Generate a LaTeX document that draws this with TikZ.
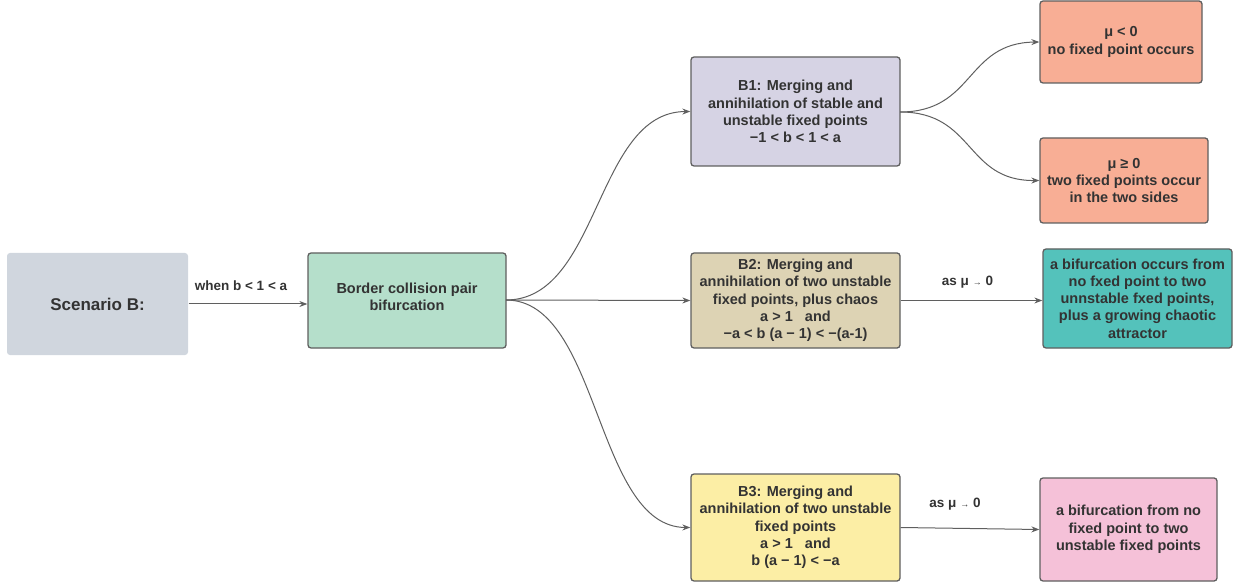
\documentclass[tikz,border=0pt]{standalone}
\usepackage{fontspec}
\setmainfont{Liberation Sans}
\usetikzlibrary{arrows.meta}
\definecolor{txt}{HTML}{333333}
\definecolor{edge}{HTML}{5F5F5F}
\definecolor{cscen}{HTML}{D0D6DE}
\definecolor{cborder}{HTML}{B5DFCB}
\definecolor{cbone}{HTML}{D6D3E4}
\definecolor{cbtwo}{HTML}{DDD3B4}
\definecolor{cbthree}{HTML}{FCEEA5}
\definecolor{csalmon}{HTML}{F8AE95}
\definecolor{cteal}{HTML}{54C2BB}
\definecolor{cpink}{HTML}{F5C1D8}
\tikzset{
  box/.style={draw=edge, line width=1.3pt, rounded corners=3pt, align=center,
    text=txt, font=\fontsize{14.5}{17.3}\selectfont\bfseries, inner sep=0pt},
  conn/.style={draw=edge, line width=1pt, -{Stealth[length=8pt,width=6pt]}},
  lbl/.style={text=txt, font=\fontsize{13.5}{16}\selectfont\bfseries, inner sep=0pt}
}
\newcommand{\smallarrow}{{\fontsize{9}{9}\selectfont →}}
\begin{document}
\begin{tikzpicture}[x=1pt,y=-1pt]
\useasboundingbox (0,0) rectangle (1253,585);
% left column
\node[box, draw=none, fill=cscen, minimum width=181pt, minimum height=102pt,
  font=\fontsize{17}{20}\selectfont\bfseries] (scen) at (97.5,304) {Scenario B:};
\node[box, fill=cborder, minimum width=198pt, minimum height=95pt] (bcp) at (407,300.5)
  {Border collision pair\\bifurcation\\[-10pt]\mbox{}};
% middle column
\node[box, fill=cbone, minimum width=209pt, minimum height=109pt] (b1) at (795.5,111.5)
  {B1: Merging and\\annihilation of stable and\\unstable fixed points\\−1 < b < 1 < a};
\node[box, fill=cbtwo, minimum width=209pt, minimum height=95pt] (b2) at (795.5,300.5)
  {B2: Merging and\\annihilation of two unstable\\fixed points, plus chaos\\a > 1 \ \ and\\−a < b (a − 1) < −(a-1)};
\node[box, fill=cbthree, minimum width=209pt, minimum height=107pt] (b3) at (795.5,527.5)
  {B3: Merging and\\annihilation of two unstable\\fixed points\\a > 1 \ \ and\\b (a − 1) < −a};
% right column
\node[box, fill=csalmon, minimum width=162pt, minimum height=82pt] (m0) at (1121,42)
  {μ < 0\\no fixed point occurs};
\node[box, fill=csalmon, minimum width=168pt, minimum height=85pt] (m1) at (1124,180.5)
  {μ ≥ 0\\two fixed points occur\\in the two sides};
\node[box, fill=cteal, minimum width=189pt, minimum height=99pt] (r2) at (1137.5,298.5)
  {a bifurcation occurs from\\no fxed point to two\\unnstable fxed points,\\plus a growing chaotic\\attractor};
\node[box, fill=cpink, minimum width=177pt, minimum height=103pt] (r3) at (1128.5,529.5)
  {a bifurcation from no\\fixed point to two\\unstable fixed points};
% connectors
\draw[conn] (scen.east) -- node[lbl, above=13pt, xshift=-7pt] {when b < 1 < a} (scen.east -| bcp.west);
\coordinate (bo) at (506,300);
\draw[conn] (bo) .. controls (600,300) and (595,112) .. (b1.west);
\draw[conn] (bo) -- (b2.west);
\draw[conn] (bo) .. controls (600,300) and (595,527) .. (b3.west);
\coordinate (b1o) at (900,112);
\draw[conn] (b1o) .. controls (975,112) and (965,43) .. (m0.west);
\draw[conn] (b1o) .. controls (975,112) and (965,181) .. (m1.west);
\draw[conn] (b2.east) -- node[lbl, above=12pt, xshift=-4pt] {as μ \smallarrow{} 0} (b2.east -| r2.west);
\draw[conn] (b3.east) -- node[lbl, above=18pt, xshift=-15pt] {as μ \smallarrow{} 0} (r3.west);
\end{tikzpicture}
\end{document}
